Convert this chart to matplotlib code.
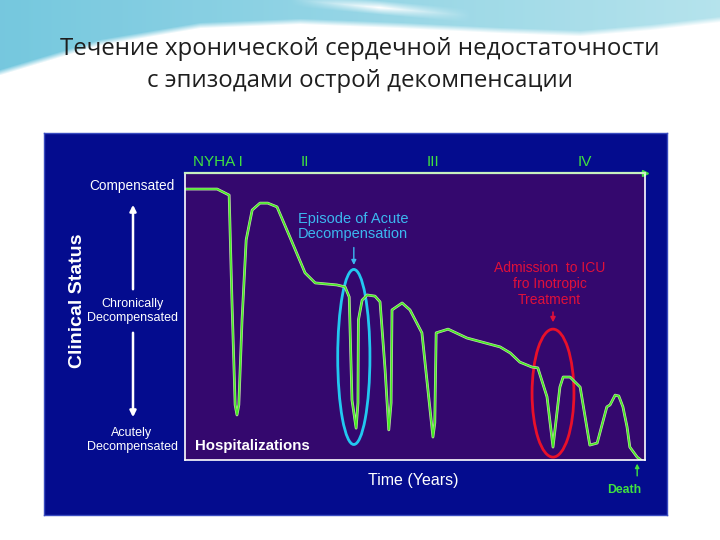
import numpy as np
import matplotlib
matplotlib.use("Agg")
import matplotlib.pyplot as plt
from matplotlib.patches import Ellipse, FancyArrowPatch

# Clinical status curve (time 0-100, status 0-100)
time = [0, 7.0, 9.6, 10.2, 10.9, 11.3, 11.7, 12.4, 13.3, 14.6, 16.3, 18.0, 20.0,
        22.8, 26.1, 28.3, 33.0, 34.8, 35.7, 36.3, 37.2, 37.6, 37.7, 38.5, 39.6,
        41.3, 42.4, 43.5, 44.3, 44.8, 45.0, 47.2, 48.9, 50.4, 51.5, 53.9, 54.3,
        54.6, 57.2, 61.3, 68.5, 70.7, 72.8, 75.4, 76.7, 78.7, 80.0, 81.5, 82.2,
        83.7, 85.9, 88.0, 89.6, 91.7, 92.4, 93.5, 94.3, 95.2, 96.1, 96.7, 98.3, 99.1]
status = [94.4, 94.4, 92.3, 55.7, 19.2, 15.7, 19.2, 48.8, 76.7, 87.1, 89.5, 89.5, 88.2,
          77.7, 65.2, 61.7, 61.0, 60.3, 56.8, 20.9, 11.1, 19.9, 48.8, 55.7, 57.5,
          57.1, 55.1, 31.4, 10.5, 19.9, 52.3, 54.7, 52.3, 47.7, 44.3, 8.0, 12.9,
          44.3, 45.6, 42.5, 39.4, 37.3, 34.1, 32.4, 32.1, 22.0, 4.5, 25.4, 28.9,
          28.9, 25.4, 5.2, 5.9, 18.5, 19.2, 22.6, 22.3, 18.5, 11.5, 4.5, 1.0, 0.0]

nyha_labels = ["NYHA I", "II", "III", "IV"]
nyha_pos = [7.2, 26.1, 53.9, 87.0]

status_labels = ["Compensated", "Chronically\nDecompensated", "Acutely\nDecompensated"]
status_sizes = [9.8, 9.0, 9.0]

title = "Течение хронической сердечной недостаточности\nс эпизодами острой декомпенсации"

plt.rcParams["font.family"] = ["Liberation Sans", "DejaVu Sans"]

W, H = 720, 540
fig = plt.figure(figsize=(7.2, 5.4), dpi=100, facecolor="white")

def fx(px):
    return px / W

def fy(py):
    return 1 - py / H

# decorative slide background (light blue wave at the top)
bg = fig.add_axes([0, 0, 1, 1], zorder=-5)
bg.set_axis_off()
xx, yy = np.meshgrid(np.arange(W), np.arange(H))
edge = np.interp(xx, [0, 100, 200, 300, 400, 500, 580, 650, 720],
                 [75, 45, 28, 24, 28, 33, 36, 30, 22])
a = np.clip((edge - yy) / 6, 0, 1) * 0.9
# soft white swoosh near the top middle
centre = (xx - 300) * 0.09
d = np.abs(yy - centre)
fade = np.clip(1 - np.abs(xx - 380) / 90, 0, 1)
a *= 1 - fade * np.clip(1 - d / 7, 0, 1)
img = np.ones((H, W, 4))
img[..., 0] = 0.40 + 0.28 * xx / W
img[..., 1] = 0.76 + 0.12 * xx / W
img[..., 2] = 0.86 + 0.06 * xx / W
img[..., 3] = a
bg.imshow(np.ones((H, W, 3)), extent=[0, W, H, 0])
bg.imshow(img, extent=[0, W, H, 0])
bg.set_xlim(0, W)
bg.set_ylim(H, 0)

fig.text(0.5, fy(65), title, ha="center", va="center", fontsize=17.3,
         family="Open Sans", color="#1e1e1e", linespacing=1.4)

# blue panel
panel = fig.add_axes([fx(44), fy(515), fx(667 - 44), (515 - 133) / H])
panel.set_facecolor("#040c8e")
panel.set_xticks([])
panel.set_yticks([])
for s in panel.spines.values():
    s.set_color("#3a4cc0")
    s.set_linewidth(1)

# inner plot
ax = fig.add_axes([fx(185), fy(460), 460 / W, 287 / H])
ax.set_facecolor("#34086e")
ax.set_xlim(0, 100)
ax.set_ylim(0, 100)
ax.set_xticks([])
ax.set_yticks([])
for k in ["left", "bottom", "right"]:
    ax.spines[k].set_color("white")
    ax.spines[k].set_linewidth(1.2)
ax.spines["top"].set_color("#c8f0c0")
ax.spines["top"].set_linewidth(1.6)
ax.plot([100], [100], marker=">", color="#40e040", markersize=4, clip_on=False)

ax.plot(time, status, color="#c8d8b0", lw=2.0, solid_joinstyle="round")
ax.plot(time, status, color="#44ee22", lw=1.1, solid_joinstyle="round")

ax.add_patch(Ellipse((36.7, 35.9), 7.0, 61, fill=False, ec="#22c8f0", lw=2))
ax.add_patch(Ellipse((80.0, 23.3), 9.1, 44.6, fill=False, ec="#e8102a", lw=2))

ax.text(24.6, 81.5, "Episode of Acute\nDecompensation", color="#3cb8f0",
        fontsize=10.5, ha="left", va="center", linespacing=1.1)
ax.annotate("", xy=(36.7, 67), xytext=(36.7, 75),
            arrowprops=dict(arrowstyle="-|>", color="#3cb8f0", lw=1, mutation_scale=7))
ax.text(79.3, 61.3, "Admission  to ICU\nfro Inotropic\nTreatment", color="#e0103a",
        fontsize=10, ha="center", va="center", linespacing=1.2)
ax.annotate("", xy=(80, 47), xytext=(80, 52.5),
            arrowprops=dict(arrowstyle="-|>", color="#e0103a", lw=1.2, mutation_scale=7))

for lab, p in zip(nyha_labels, nyha_pos):
    ax.text(p, 103.8, lab, color="#40e040", fontsize=11, ha="center", va="center",
            clip_on=False)

ax.text(2.2, 4.9, "Hospitalizations", color="white", fontsize=10.8,
        fontweight="bold", ha="left", va="center")
ax.text(49.6, -7.3, "Time (Years)", color="white", fontsize=11.5,
        ha="center", va="center", clip_on=False)
ax.text(95.4, -10.5, "Death", color="#40e040", fontsize=8.8, fontweight="bold",
        ha="center", va="center", clip_on=False)
ax.annotate("", xy=(98.3, -0.3), xytext=(98.3, -6.5), annotation_clip=False,
            arrowprops=dict(arrowstyle="-|>", color="#40e040", lw=1, mutation_scale=6))

# left side labels
fig.text(fx(77), fy(301), "Clinical Status", color="white", fontsize=14,
         fontweight="bold", rotation=90, ha="center", va="center")
for lab, py, fs in zip(status_labels, [186, 311, 440], status_sizes):
    fig.text(fx(132), fy(py), lab, color="white", fontsize=fs, ha="center",
             va="center", linespacing=1.3)
fig.add_artist(FancyArrowPatch(
    (fx(133), fy(292)), (fx(133), fy(202)), transform=fig.transFigure,
    arrowstyle="-|>", color="white", lw=1.8, mutation_scale=9))
fig.add_artist(FancyArrowPatch(
    (fx(133), fy(330)), (fx(133), fy(420)), transform=fig.transFigure,
    arrowstyle="-|>", color="white", lw=1.8, mutation_scale=9))

fig.savefig("out.png", dpi=100)
